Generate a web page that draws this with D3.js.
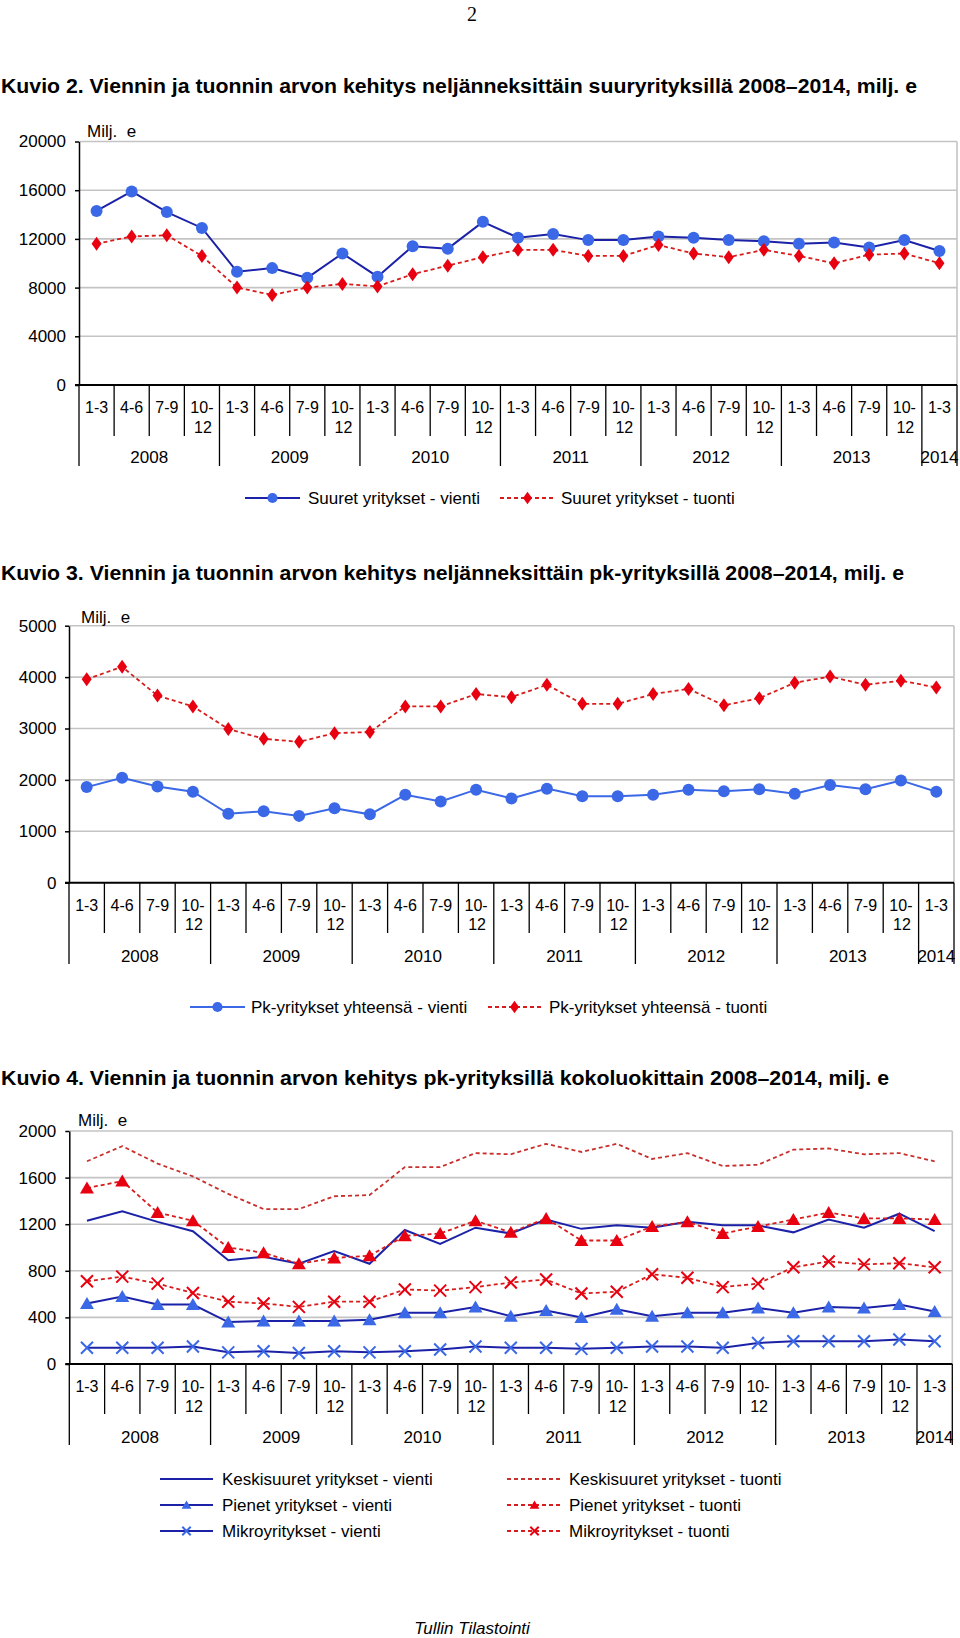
<!DOCTYPE html>
<html>
<head>
<meta charset="utf-8">
<script src="https://cdn.jsdelivr.net/npm/d3@7"></script>
<style>
body { margin: 0; background: #fff; }
svg { display: block; font-family: "Liberation Sans", Arial, sans-serif; }
</style>
</head>
<body>
<svg id="page" width="960" height="1638"></svg>
<script>
// quarters and years (shared by all three charts)
const quarters = ['1-3','4-6','7-9','10-12','1-3','4-6','7-9','10-12','1-3','4-6','7-9','10-12',
  '1-3','4-6','7-9','10-12','1-3','4-6','7-9','10-12','1-3','4-6','7-9','10-12','1-3'];
const years = ['2008','2009','2010','2011','2012','2013','2014'];
const quartersPerYear = [4, 4, 4, 4, 4, 4, 1];

// Kuvio 2, milj. e
const suuretVienti = [14300, 15900, 14200, 12900, 9300, 9600, 8800, 10800, 8900, 11400, 11200, 13400,
  12100, 12400, 11900, 11900, 12200, 12100, 11900, 11800, 11600, 11700, 11300, 11900, 11000];
const suuretTuonti = [11600, 12200, 12300, 10600, 8000, 7400, 8000, 8300, 8100, 9100, 9800, 10500,
  11100, 11100, 10600, 10600, 11500, 10800, 10500, 11100, 10600, 10000, 10700, 10800, 10000];

// Kuvio 3
const pkVienti = [1860, 2040, 1870, 1770, 1340, 1390, 1300, 1450, 1330, 1710, 1580, 1810,
  1640, 1830, 1680, 1680, 1710, 1810, 1780, 1820, 1730, 1900, 1820, 1990, 1770];
const pkTuonti = [3960, 4200, 3640, 3430, 2990, 2800, 2740, 2910, 2930, 3430, 3430, 3670,
  3610, 3850, 3480, 3480, 3670, 3770, 3450, 3590, 3890, 4010, 3850, 3930, 3800];

// Kuvio 4
const keskiVienti = [1230, 1310, 1220, 1140, 890, 920, 860, 970, 860, 1150, 1030, 1170,
  1120, 1240, 1160, 1190, 1170, 1220, 1190, 1190, 1130, 1240, 1170, 1290, 1140];
const keskiTuonti = [1740, 1870, 1720, 1610, 1460, 1330, 1330, 1440, 1450, 1690, 1690, 1810,
  1800, 1890, 1820, 1890, 1760, 1810, 1700, 1710, 1840, 1850, 1800, 1810, 1740];
const pienetVienti = [520, 580, 510, 510, 360, 370, 370, 370, 380, 440, 440, 490,
  410, 460, 400, 470, 410, 440, 440, 480, 440, 490, 480, 510, 450];
const pienetTuonti = [1510, 1570, 1300, 1230, 1000, 955, 860, 910, 930, 1100, 1120, 1230,
  1130, 1250, 1060, 1060, 1180, 1220, 1120, 1180, 1240, 1300, 1250, 1250, 1240];
const mikroVienti = [140, 140, 140, 150, 100, 110, 95, 110, 100, 110, 125, 150,
  140, 140, 130, 140, 150, 150, 140, 180, 195, 195, 195, 210, 195];
const mikroTuonti = [710, 750, 690, 610, 535, 520, 490, 535, 535, 640, 630, 660,
  700, 725, 605, 620, 770, 740, 660, 690, 830, 880, 855, 865, 830];

const NAVY = '#1c22a8', BLUE = '#3a68e6', RED = '#d81c1c', REDM = '#e80010', DRED = '#c8302e';

const svg = d3.select('#page');

function markerPath(type, s) {
  if (type === 'diamond') return `M0,${-7*s}L${5*s},0L0,${7*s}L${-5*s},0Z`;
  if (type === 'triangle') return `M0,${-6.5*s}L${7*s},${5.5*s}L${-7*s},${5.5*s}Z`;
  if (type === 'x') return `M${-6*s},${-6*s}L${6*s},${6*s}M${-6*s},${6*s}L${6*s},${-6*s}`;
  return null;
}

function drawMarker(g, type, color, s) {
  if (type === 'circle') {
    g.append('circle').attr('r', 6 * s).attr('fill', color);
  } else if (type === 'x') {
    g.append('path').attr('d', markerPath('x', s)).attr('fill', 'none')
      .attr('stroke', color).attr('stroke-width', 2);
  } else if (type) {
    g.append('path').attr('d', markerPath(type, s)).attr('fill', color);
  }
}

function text(x, y, str, size, opts) {
  const t = svg.append('text').attr('x', x).attr('y', y).attr('font-size', size + 'px')
    .attr('fill', '#000').text(str);
  if (opts) Object.entries(opts).forEach(([k, v]) => t.attr(k, v));
  return t;
}

function drawChart(c) {
  const x = d3.scaleBand().domain(d3.range(quarters.length)).range([c.left, c.right]).padding(0);
  const y = d3.scaleLinear().domain([0, c.yMax]).range([c.y0, c.yTop]);
  const bw = x.bandwidth();
  const ticks = d3.range(0, c.yMax + 1, c.yStep);
  const g = svg.append('g');

  // grid
  g.selectAll('line.grid').data(ticks.filter(d => d > 0)).enter().append('line')
    .attr('x1', c.left).attr('x2', c.right).attr('y1', d => y(d)).attr('y2', d => y(d))
    .attr('stroke', '#c4c4c4').attr('stroke-width', 1.6);
  g.append('line').attr('x1', c.right).attr('x2', c.right).attr('y1', c.yTop).attr('y2', c.y0)
    .attr('stroke', '#c4c4c4').attr('stroke-width', 1.6);

  // y axis
  const ax = g.append('g').attr('transform', `translate(${c.left},0)`)
    .call(d3.axisLeft(y).tickValues(ticks).tickFormat(d3.format('d'))
      .tickSize(4).tickSizeOuter(0).tickPadding(c.tickPad));
  ax.select('.domain').attr('stroke', '#000').attr('stroke-width', 1.5);
  ax.selectAll('.tick line').attr('stroke', '#000').attr('stroke-width', 1.5);
  ax.selectAll('.tick text').attr('font-size', '17px').attr('font-family', 'Liberation Sans, Arial, sans-serif')
    .attr('fill', '#000');

  // zero line
  g.append('line').attr('x1', c.left - 4).attr('x2', c.right).attr('y1', y(0)).attr('y2', y(0))
    .attr('stroke', '#000').attr('stroke-width', 2);

  text(c.milj[0], c.milj[1], 'Milj.  e', 17, { 'xml:space': 'preserve' });

  // category axis
  const yearStarts = [0];
  quartersPerYear.forEach(n => yearStarts.push(yearStarts[yearStarts.length - 1] + n));
  d3.range(quarters.length + 1).forEach(i => {
    const xp = c.left + i * bw;
    const isYear = yearStarts.includes(i);
    g.append('line').attr('x1', xp).attr('x2', xp).attr('y1', y(0))
      .attr('y2', isYear ? c.yearSepEnd : c.sepEnd).attr('stroke', '#000').attr('stroke-width', 1.3);
  });
  quarters.forEach((q, i) => {
    const cx = x(i) + bw / 2;
    if (q === '10-12') {
      text(cx, c.catBase, '10-', 16, { 'text-anchor': 'middle' });
      text(cx + 1, c.catBase2, '12', 16, { 'text-anchor': 'middle' });
    } else {
      text(cx, c.catBase, q, 16, { 'text-anchor': 'middle' });
    }
  });
  years.forEach((yr, k) => {
    const cx = c.left + (yearStarts[k] + quartersPerYear[k] / 2) * bw;
    text(cx, c.yearBase, yr, 17, { 'text-anchor': 'middle' });
  });

  // series
  const line = d3.line().x((d, i) => x(i) + bw / 2).y(d => y(d));
  c.series.forEach(s => {
    g.append('path').datum(s.values).attr('d', line).attr('fill', 'none')
      .attr('stroke', s.lineColor).attr('stroke-width', s.dashed ? 1.8 : 2)
      .attr('stroke-dasharray', s.dashed ? '4,3' : null);
  });
  c.series.forEach(s => {
    if (!s.marker) return;
    s.values.forEach((v, i) => {
      const m = g.append('g').attr('transform', `translate(${x(i) + bw / 2},${y(v)})`);
      drawMarker(m, s.marker, s.markerColor, 1);
    });
  });

  // legend
  c.legend.forEach(l => {
    const s = c.series[l.series];
    g.append('line').attr('x1', l.x1).attr('x2', l.x2).attr('y1', l.y).attr('y2', l.y)
      .attr('stroke', s.lineColor).attr('stroke-width', 2)
      .attr('stroke-dasharray', s.dashed ? '4,3' : null);
    if (s.marker) {
      const m = g.append('g').attr('transform', `translate(${(l.x1 + l.x2) / 2},${l.y})`);
      const sc = s.marker === 'circle' ? 0.85 : (s.marker === 'diamond' ? 0.9 : 0.7);
      drawMarker(m, s.marker, s.markerColor, sc);
    }
    text(l.tx, l.y + 6, s.name, 17);
  });
}

// page number
text(472, 21, '2', 20, { 'text-anchor': 'middle', 'font-family': 'Liberation Serif, Times New Roman, serif' });

// titles
text(1, 93, 'Kuvio 2. Viennin ja tuonnin arvon kehitys neljänneksittäin suuryrityksillä 2008–2014, milj. e', 19.5,
  { 'font-weight': 'bold', textLength: 916, lengthAdjust: 'spacingAndGlyphs' });
text(1, 580, 'Kuvio 3. Viennin ja tuonnin arvon kehitys neljänneksittäin pk-yrityksillä 2008–2014, milj. e', 19.5,
  { 'font-weight': 'bold', textLength: 903, lengthAdjust: 'spacingAndGlyphs' });
text(1, 1085, 'Kuvio 4. Viennin ja tuonnin arvon kehitys pk-yrityksillä kokoluokittain 2008–2014, milj. e', 19.5,
  { 'font-weight': 'bold', textLength: 888, lengthAdjust: 'spacingAndGlyphs' });

drawChart({
  left: 79, right: 957, yTop: 141.5, y0: 385, yMax: 20000, yStep: 4000, tickPad: 9,
  milj: [87, 137],
  catBase: 413, catBase2: 433, sepEnd: 436, yearBase: 463, yearSepEnd: 466,
  series: [
    { name: 'Suuret yritykset - vienti', values: suuretVienti, lineColor: NAVY, marker: 'circle', markerColor: BLUE },
    { name: 'Suuret yritykset - tuonti', values: suuretTuonti, lineColor: RED, dashed: true, marker: 'diamond', markerColor: REDM }
  ],
  legend: [
    { series: 0, x1: 245, x2: 300, y: 498, tx: 308 },
    { series: 1, x1: 500, x2: 555, y: 498, tx: 561 }
  ]
});

drawChart({
  left: 69, right: 954, yTop: 625.7, y0: 882.7, yMax: 5000, yStep: 1000, tickPad: 8.5,
  milj: [81, 623],
  catBase: 911, catBase2: 930, sepEnd: 933, yearBase: 962, yearSepEnd: 964,
  series: [
    { name: 'Pk-yritykset yhteensä - vienti', values: pkVienti, lineColor: BLUE, marker: 'circle', markerColor: BLUE },
    { name: 'Pk-yritykset yhteensä - tuonti', values: pkTuonti, lineColor: RED, dashed: true, marker: 'diamond', markerColor: REDM }
  ],
  legend: [
    { series: 0, x1: 190, x2: 245, y: 1007, tx: 251 },
    { series: 1, x1: 488, x2: 541, y: 1007, tx: 549 }
  ]
});

drawChart({
  left: 69.3, right: 952.3, yTop: 1131, y0: 1364, yMax: 2000, yStep: 400, tickPad: 9,
  milj: [78, 1126],
  catBase: 1392, catBase2: 1412, sepEnd: 1414, yearBase: 1443, yearSepEnd: 1445,
  series: [
    { name: 'Keskisuuret yritykset - vienti', values: keskiVienti, lineColor: NAVY },
    { name: 'Keskisuuret yritykset - tuonti', values: keskiTuonti, lineColor: DRED, dashed: true },
    { name: 'Pienet yritykset - vienti', values: pienetVienti, lineColor: NAVY, marker: 'triangle', markerColor: BLUE },
    { name: 'Pienet yritykset - tuonti', values: pienetTuonti, lineColor: RED, dashed: true, marker: 'triangle', markerColor: REDM },
    { name: 'Mikroyritykset - vienti', values: mikroVienti, lineColor: NAVY, marker: 'x', markerColor: BLUE },
    { name: 'Mikroyritykset - tuonti', values: mikroTuonti, lineColor: RED, dashed: true, marker: 'x', markerColor: REDM }
  ],
  legend: [
    { series: 0, x1: 160, x2: 213, y: 1479, tx: 222 },
    { series: 2, x1: 160, x2: 213, y: 1505, tx: 222 },
    { series: 4, x1: 160, x2: 213, y: 1531, tx: 222 },
    { series: 1, x1: 507, x2: 562, y: 1479, tx: 569 },
    { series: 3, x1: 507, x2: 562, y: 1505, tx: 569 },
    { series: 5, x1: 507, x2: 562, y: 1531, tx: 569 }
  ]
});

// footer
text(472, 1634, 'Tullin Tilastointi', 17, { 'text-anchor': 'middle', 'font-style': 'italic' });
</script>
</body>
</html>
